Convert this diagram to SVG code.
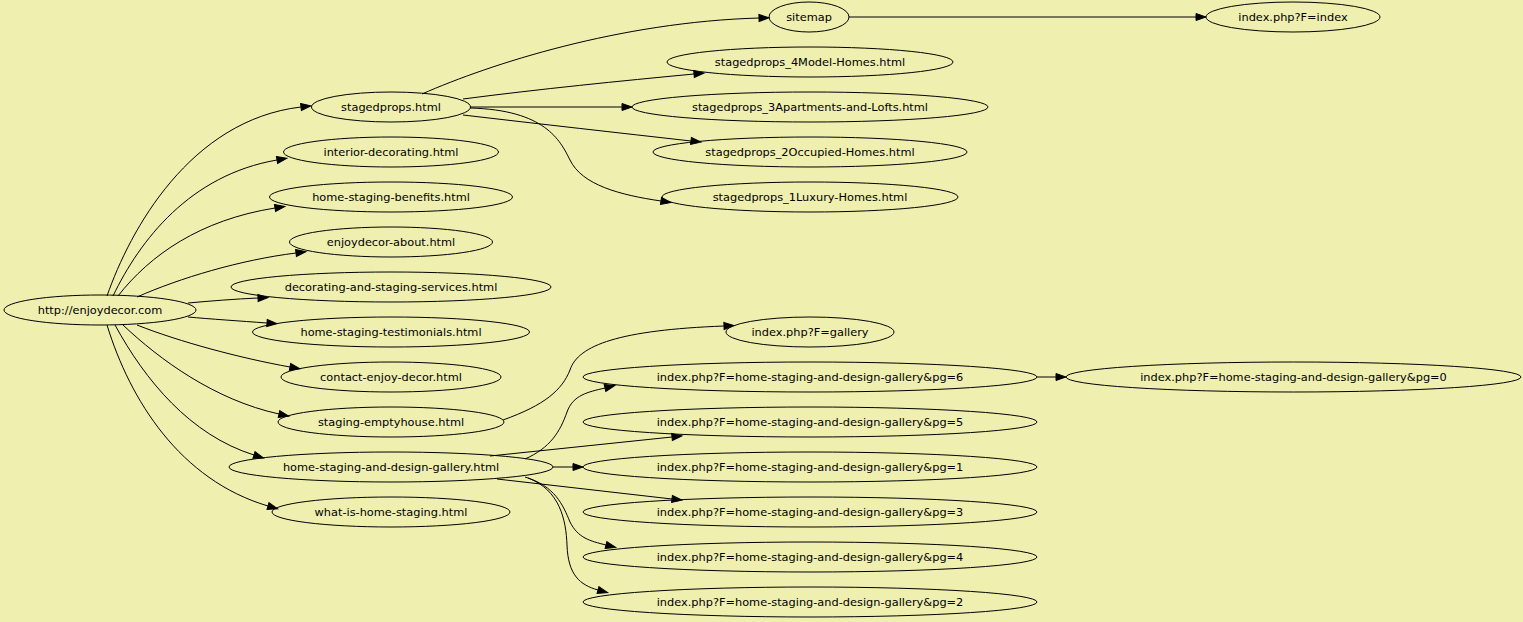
<svg xmlns="http://www.w3.org/2000/svg" width="1523" height="622" viewBox="0 0 1523 622">
<style>
.node ellipse{fill:none;stroke:#000;stroke-width:1}
.node text{font-family:"DejaVu Sans",sans-serif;font-size:11.35px;fill:#000;text-anchor:middle}
.edges path{fill:none;stroke:#000;stroke-width:1;marker-end:url(#arr)}
</style>
<defs>
<marker id="arr" markerUnits="userSpaceOnUse" markerWidth="10" markerHeight="7" refX="0" refY="3.5" orient="auto" overflow="visible">
<path d="M0,0 L10,3.5 L0,7 z" fill="#000" stroke="#000" stroke-width="1"/>
</marker>
</defs>
<rect width="1523" height="622" fill="#efefb0"/>
<g class="edges" id="edges">
<path d="M107,296 C130,230 190,120 301,107"/>
<path d="M113,296 C140,240 190,175 277,160"/>
<path d="M118,296 C150,255 200,220 275,208"/>
<path d="M137,297 C180,278 240,260 296,253"/>
<path d="M188,303 C210,301 235,299 258,298"/>
<path d="M188,317 C210,319 240,321 267,323"/>
<path d="M137,325 C180,342 240,358 290,367"/>
<path d="M123,325 C160,360 215,400 279,414"/>
<path d="M115,325 C145,380 190,435 254,455"/>
<path d="M107,325 C130,400 180,480 268,506"/>
<path d="M422,94 C490,64 620,22 759,18"/>
<path d="M463,99 C540,89 620,81 694,74"/>
<path d="M470,107 L622,107"/>
<path d="M463,115 C540,124 620,133 691,141"/>
<path d="M470,108 C545,110 560,140 570,160 C582,185 620,195 661,201"/>
<path d="M849,17 L1196,17"/>
<path d="M503,420 C545,405 562,390 570,370 C578,345 620,330 724,326"/>
<path d="M525,459 C550,448 560,432 567,412 C573,395 588,392 605,388"/>
<path d="M490,456 L672,437"/>
<path d="M553,467 L573,467"/>
<path d="M497,479 L672,499"/>
<path d="M525,477 C555,486 563,505 570,522 C578,538 590,541 606,545"/>
<path d="M528,478 C560,490 566,520 567,545 C568,575 580,585 598,590"/>
<path d="M1037,377 L1056,377"/>
</g>
<g class="node" id="root"><ellipse cx="100" cy="310" rx="96" ry="15"/><text x="100" y="314">http://enjoydecor.com</text></g>
<g class="node" id="stagedprops"><ellipse cx="391" cy="107" rx="79.5" ry="15"/><text x="391" y="111">stagedprops.html</text></g>
<g class="node" id="interior"><ellipse cx="391" cy="152" rx="107.5" ry="15"/><text x="391" y="156">interior-decorating.html</text></g>
<g class="node" id="benefits"><ellipse cx="391" cy="197" rx="121.5" ry="15"/><text x="391" y="201">home-staging-benefits.html</text></g>
<g class="node" id="about"><ellipse cx="391" cy="242" rx="101.5" ry="15"/><text x="391" y="246">enjoydecor-about.html</text></g>
<g class="node" id="services"><ellipse cx="391" cy="287" rx="160" ry="15"/><text x="391" y="291">decorating-and-staging-services.html</text></g>
<g class="node" id="testimonials"><ellipse cx="391" cy="332" rx="138.5" ry="15"/><text x="391" y="336">home-staging-testimonials.html</text></g>
<g class="node" id="contact"><ellipse cx="391" cy="377" rx="110" ry="15"/><text x="391" y="381">contact-enjoy-decor.html</text></g>
<g class="node" id="emptyhouse"><ellipse cx="391" cy="422" rx="113" ry="15"/><text x="391" y="426">staging-emptyhouse.html</text></g>
<g class="node" id="gallery"><ellipse cx="391" cy="467" rx="162" ry="15"/><text x="391" y="471">home-staging-and-design-gallery.html</text></g>
<g class="node" id="whatis"><ellipse cx="391" cy="512" rx="119" ry="15"/><text x="391" y="516">what-is-home-staging.html</text></g>
<g class="node" id="sitemap"><ellipse cx="809" cy="17" rx="40" ry="15"/><text x="809" y="21">sitemap</text></g>
<g class="node" id="sp4"><ellipse cx="810" cy="62" rx="143" ry="15"/><text x="810" y="66">stagedprops_4Model-Homes.html</text></g>
<g class="node" id="sp3"><ellipse cx="810" cy="107" rx="178" ry="15"/><text x="810" y="111">stagedprops_3Apartments-and-Lofts.html</text></g>
<g class="node" id="sp2"><ellipse cx="810" cy="152" rx="157" ry="15"/><text x="810" y="156">stagedprops_2Occupied-Homes.html</text></g>
<g class="node" id="sp1"><ellipse cx="810" cy="197" rx="148" ry="15"/><text x="810" y="201">stagedprops_1Luxury-Homes.html</text></g>
<g class="node" id="fgallery"><ellipse cx="810" cy="332" rx="84" ry="15"/><text x="810" y="336">index.php?F=gallery</text></g>
<g class="node" id="pg6"><ellipse cx="810" cy="377" rx="227" ry="15"/><text x="810" y="381">index.php?F=home-staging-and-design-gallery&amp;pg=6</text></g>
<g class="node" id="pg5"><ellipse cx="810" cy="422" rx="227" ry="15"/><text x="810" y="426">index.php?F=home-staging-and-design-gallery&amp;pg=5</text></g>
<g class="node" id="pg1"><ellipse cx="810" cy="467" rx="227" ry="15"/><text x="810" y="471">index.php?F=home-staging-and-design-gallery&amp;pg=1</text></g>
<g class="node" id="pg3"><ellipse cx="810" cy="512" rx="227" ry="15"/><text x="810" y="516">index.php?F=home-staging-and-design-gallery&amp;pg=3</text></g>
<g class="node" id="pg4"><ellipse cx="810" cy="557" rx="227" ry="15"/><text x="810" y="561">index.php?F=home-staging-and-design-gallery&amp;pg=4</text></g>
<g class="node" id="pg2"><ellipse cx="810" cy="602" rx="227" ry="15"/><text x="810" y="606">index.php?F=home-staging-and-design-gallery&amp;pg=2</text></g>
<g class="node" id="findex"><ellipse cx="1293" cy="17" rx="87" ry="15"/><text x="1293" y="21">index.php?F=index</text></g>
<g class="node" id="pg0"><ellipse cx="1293.5" cy="377" rx="227.5" ry="15"/><text x="1293.5" y="381">index.php?F=home-staging-and-design-gallery&amp;pg=0</text></g>
</svg>
